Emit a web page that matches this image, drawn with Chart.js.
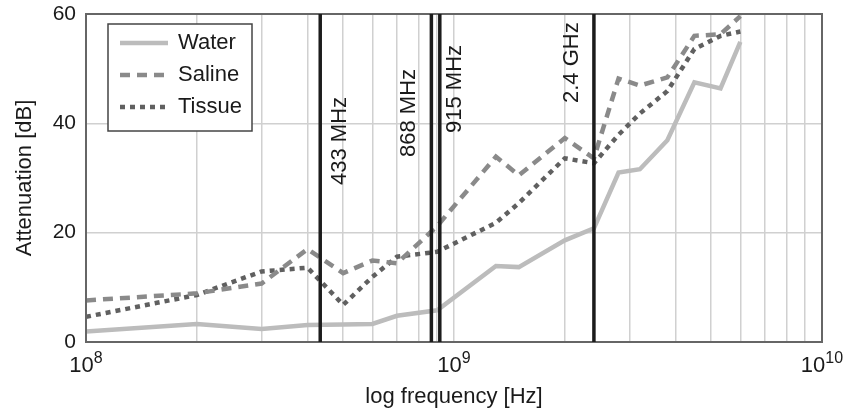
<!DOCTYPE html>
<html>
<head>
<meta charset="utf-8">
<style>
  html, body { margin: 0; padding: 0; background: #fff; }
</style>
<script src="https://cdn.jsdelivr.net/npm/chart.js@4.4.1/dist/chart.umd.min.js"></script>
</head>
<body>
<canvas id="attChart" width="845" height="412"></canvas>
<script>
// frequencies (Hz) and attenuation (dB)
const freqs = [1e8, 2e8, 3e8, 4e8, 5e8, 6e8, 7e8, 9e8, 1.3e9, 1.5e9, 2e9, 2.4e9, 2.8e9, 3.2e9, 3.8e9, 4.5e9, 5.3e9, 6e9];
const water = [1.9, 3.3, 2.4, 3.1, 3.2, 3.3, 4.8, 5.8, 13.9, 13.7, 18.6, 20.8, 31.0, 31.6, 36.9, 47.5, 46.4, 54.9];
const saline = [7.6, 8.9, 10.7, 17.0, 12.6, 14.9, 14.4, 21.2, 33.9, 30.5, 37.3, 33.6, 48.2, 46.9, 48.4, 56.0, 56.3, 59.6];
const tissue = [4.6, 8.6, 12.9, 13.6, 6.8, 11.9, 15.6, 16.5, 21.8, 25.4, 33.6, 32.7, 37.9, 41.8, 45.9, 53.6, 56.0, 56.8];

const markerFreqs = [433e6, 868e6, 915e6, 2.4e9];
const markerLabels = ['433 MHz', '868 MHz', '915 MHz', '2.4 GHz'];
const decades = [1e8, 1e9, 1e10];
const yTicks = [0, 20, 40, 60];

// where each marker label sits: side offset from the line, text start below plot top
const markerLabelPos = [
  { dx: 20, from: 171 },
  { dx: -22, from: 143 },
  { dx: 15, from: 119 },
  { dx: -22, from: 89 }
];

const FONT = '"Liberation Sans", Arial, sans-serif';
Chart.defaults.font.family = FONT;
Chart.defaults.color = '#1a1a1a';

const toPoints = vals => freqs.map((f, i) => ({ x: f, y: vals[i] }));

const overlay = {
  id: 'overlay',
  afterDatasetsDraw(chart) {
    const { ctx, chartArea: a, scales: { x } } = chart;
    ctx.save();

    // frame
    ctx.strokeStyle = '#666';
    ctx.lineWidth = 2;
    ctx.strokeRect(a.left, a.top, a.right - a.left, a.bottom - a.top);

    // band markers
    markerFreqs.forEach((f, i) => {
      const px = x.getPixelForValue(f);
      ctx.strokeStyle = '#1c1c1c';
      ctx.lineWidth = 3.5;
      ctx.beginPath();
      ctx.moveTo(px, a.top);
      ctx.lineTo(px, a.bottom);
      ctx.stroke();

      const lp = markerLabelPos[i];
      ctx.save();
      ctx.translate(px + lp.dx, a.top + lp.from);
      ctx.rotate(-Math.PI / 2);
      ctx.font = '22px ' + FONT;
      ctx.fillStyle = '#1a1a1a';
      ctx.textAlign = 'left';
      ctx.textBaseline = 'middle';
      ctx.fillText(markerLabels[i], 0, 0);
      ctx.restore();
    });

    // x tick labels 10^n
    decades.forEach(d => {
      const px = x.getPixelForValue(d);
      const base = '10';
      const sup = String(Math.round(Math.log10(d)));
      ctx.font = '22px ' + FONT;
      const wb = ctx.measureText(base).width;
      ctx.font = '16px ' + FONT;
      const ws = ctx.measureText(sup).width;
      const x0 = px - (wb + ws) / 2;
      ctx.fillStyle = '#1a1a1a';
      ctx.textAlign = 'left';
      ctx.textBaseline = 'alphabetic';
      ctx.font = '22px ' + FONT;
      ctx.fillText(base, x0, a.bottom + 30);
      ctx.font = '16px ' + FONT;
      ctx.fillText(sup, x0 + wb, a.bottom + 21);
    });

    // legend
    const lx = a.left + 22, ly = a.top + 10, lw = 144, lh = 107;
    ctx.fillStyle = '#fff';
    ctx.fillRect(lx, ly, lw, lh);
    ctx.strokeStyle = '#444';
    ctx.lineWidth = 1.5;
    ctx.strokeRect(lx, ly, lw, lh);
    chart.data.datasets.forEach((ds, i) => {
      const ry = ly + 19 + i * 32;
      ctx.strokeStyle = ds.borderColor;
      ctx.lineWidth = ds.borderWidth;
      ctx.setLineDash(ds.borderDash || []);
      ctx.beginPath();
      ctx.moveTo(lx + 12, ry);
      ctx.lineTo(lx + 60, ry);
      ctx.stroke();
      ctx.setLineDash([]);
      ctx.fillStyle = '#1a1a1a';
      ctx.font = '22px ' + FONT;
      ctx.textAlign = 'left';
      ctx.textBaseline = 'middle';
      ctx.fillText(ds.label, lx + 70, ry);
    });

    ctx.restore();
  }
};

const ctx = document.getElementById('attChart').getContext('2d');
const attChart = new Chart(ctx, {
  type: 'line',
  data: {
    datasets: [
      { label: 'Water', data: toPoints(water), borderColor: '#bcbcbc', borderWidth: 4.5, pointRadius: 0, tension: 0 },
      { label: 'Saline', data: toPoints(saline), borderColor: '#8a8a8a', borderWidth: 4.5, borderDash: [10, 7], pointRadius: 0, tension: 0 },
      { label: 'Tissue', data: toPoints(tissue), borderColor: '#606060', borderWidth: 4.5, borderDash: [5, 5], pointRadius: 0, tension: 0 }
    ]
  },
  options: {
    responsive: false,
    animation: false,
    layout: { padding: { left: 0, right: 23, top: 14, bottom: 0 } },
    plugins: { legend: { display: false }, tooltip: { enabled: false } },
    scales: {
      x: {
        type: 'logarithmic',
        min: 1e8,
        max: 1e10,
        afterBuildTicks: scale => {
          const t = [];
          decades.slice(0, -1).forEach(d => {
            for (let k = 1; k < 10; k++) t.push({ value: k * d });
          });
          t.push({ value: decades[decades.length - 1] });
          scale.ticks = t;
        },
        afterFit: scale => { scale.height = 70; },
        ticks: { display: false },
        grid: { color: '#d0d0d0', lineWidth: 1.5, drawTicks: false },
        border: { display: false },
        title: {
          display: true,
          text: 'log frequency [Hz]',
          font: { size: 22 },
          padding: { top: 0, bottom: 2 }
        }
      },
      y: {
        min: 0,
        max: 60,
        afterBuildTicks: scale => { scale.ticks = yTicks.map(v => ({ value: v })); },
        afterFit: scale => { scale.width = 86; },
        ticks: { font: { size: 21 }, padding: 0 },
        grid: { color: '#d0d0d0', lineWidth: 1.5, drawTicks: true, tickLength: 10, tickColor: 'rgba(0,0,0,0)' },
        border: { display: false },
        title: {
          display: true,
          text: 'Attenuation [dB]',
          font: { size: 22 },
          padding: { top: 12, bottom: 0 }
        }
      }
    }
  },
  plugins: [overlay]
});
</script>
</body>
</html>
